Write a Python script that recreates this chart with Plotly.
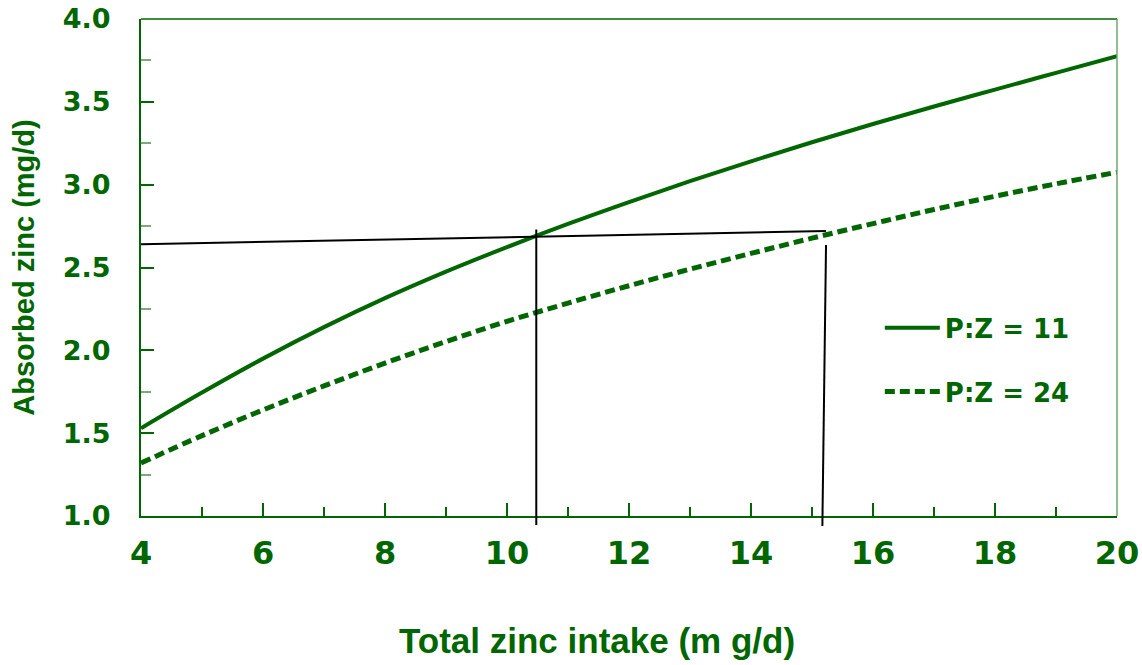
import plotly.graph_objects as go

# ---- data ----
zinc_intake = [4, 5, 6, 7, 8, 9, 10, 11, 12, 13, 14, 15, 16, 17, 18, 19, 20]
absorbed_pz11 = [1.53, 1.745, 1.95, 2.14, 2.315, 2.475, 2.623, 2.763, 2.895, 3.021, 3.141, 3.256, 3.366, 3.472, 3.574, 3.675, 3.775]
absorbed_pz24 = [1.32, 1.485, 1.64, 1.785, 1.923, 2.053, 2.175, 2.285, 2.39, 2.49, 2.585, 2.677, 2.765, 2.85, 2.93, 3.005, 3.075]
series_names = ["P:Z = 11", "P:Z = 24"]

# reference (hand-drawn) guide lines
guide_h_x = [4, 15.23]
guide_h_y = [2.64, 2.72]
guide_v1_x = [10.48, 10.48]
guide_v1_y = [2.73, 0.945]
guide_v2_x = [15.23, 15.17]
guide_v2_y = [2.636, 0.94]

x_ticks = [4, 6, 8, 10, 12, 14, 16, 18, 20]
y_ticks = [1.0, 1.5, 2.0, 2.5, 3.0, 3.5, 4.0]
y_tick_text = ["1.0", "1.5", "2.0", "2.5", "3.0", "3.5", "4.0"]
x_title = "Total zinc intake (m g/d)"
y_title = "Absorbed zinc (mg/d)"

GREEN = "#006600"
Y_MIN, Y_MAX = 1.0, 4.0


def to_paper(v):
    return (v - Y_MIN) / (Y_MAX - Y_MIN)


fig = go.Figure()
fig.add_trace(go.Scatter(
    x=zinc_intake, y=absorbed_pz11, name=series_names[0], mode="lines",
    line=dict(color=GREEN, width=4, shape="spline"), legendgroup="a",
))
fig.add_trace(go.Scatter(
    x=zinc_intake, y=absorbed_pz24, name=series_names[1], mode="lines",
    line=dict(color=GREEN, width=5, dash="10px,5px", shape="spline"), legendgroup="b",
))

# guide lines (shapes so that the verticals can run below the axis)
for xs, ys in [(guide_h_x, guide_h_y), (guide_v1_x, guide_v1_y), (guide_v2_x, guide_v2_y)]:
    fig.add_shape(type="line", xref="x", yref="paper",
                  x0=xs[0], x1=xs[1], y0=to_paper(ys[0]), y1=to_paper(ys[1]),
                  line=dict(color="black", width=2), layer="above")

# top and right frame lines
fig.add_shape(type="line", xref="paper", yref="paper", x0=0, x1=1, y0=1, y1=1,
              line=dict(color=GREEN, width=1.5))
fig.add_shape(type="line", xref="paper", yref="paper", x0=1, x1=1, y0=0, y1=1,
              line=dict(color="#6fa86f", width=1.5))

fig.add_annotation(
    text=x_title, xref="paper", yref="paper", x=0.467, y=-0.25,
    xanchor="center", yanchor="middle", showarrow=False,
    font=dict(family="Liberation Sans", size=35, color=GREEN, weight="bold"),
)

fig.update_layout(
    width=1142, height=665,
    margin=dict(l=141, r=25, t=19, b=149, autoexpand=False),
    paper_bgcolor="white", plot_bgcolor="white",
    showlegend=True,
    legend=dict(
        x=0.757, y=0.426, xanchor="left", yanchor="top",
        bgcolor="rgba(0,0,0,0)", tracegroupgap=27, itemwidth=55,
        font=dict(family="DejaVu Sans", size=26, color=GREEN, weight="bold"),
    ),
    xaxis=dict(
        range=[4, 20], tickvals=x_ticks, ticktext=[str(v) for v in x_ticks],
        ticks="inside", ticklen=13, tickwidth=1.5, tickcolor=GREEN,
        minor=dict(dtick=1, ticks="inside", ticklen=9, tickwidth=1.5, tickcolor=GREEN),
        showline=True, linecolor=GREEN, linewidth=2, showgrid=False, zeroline=False,
        tickfont=dict(family="DejaVu Sans", size=32, color=GREEN, weight="bold"),
        ticklabelstandoff=8, automargin=False,
    ),
    yaxis=dict(
        range=[Y_MIN, Y_MAX], tickvals=y_ticks, ticktext=y_tick_text,
        ticks="inside", ticklen=13, tickwidth=1.5, tickcolor=GREEN,
        minor=dict(dtick=0.25, ticks="inside", ticklen=10, tickwidth=1.5, tickcolor="#7aab7a"),
        showline=True, linecolor=GREEN, linewidth=2, showgrid=False, zeroline=False,
        tickfont=dict(family="DejaVu Sans", size=27, color=GREEN, weight="bold"),
        ticklabelstandoff=23, automargin=False,
        title=dict(text=y_title, standoff=20,
                   font=dict(family="Liberation Sans", size=29, color=GREEN, weight="bold")),
    ),
)

fig.write_html("out.html", config={"displayModeBar": False},
               post_script="document.body.style.margin='0';")
